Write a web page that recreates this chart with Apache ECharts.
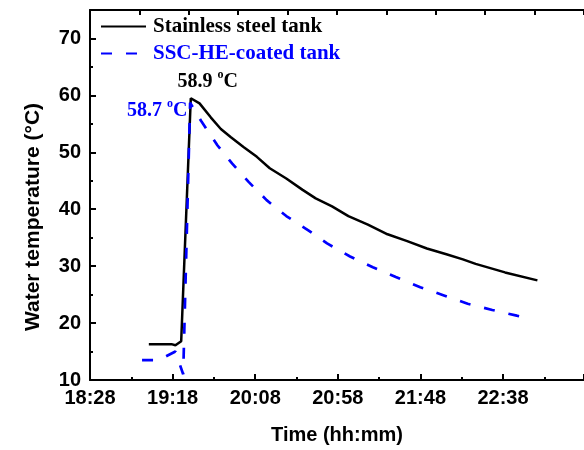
<!DOCTYPE html>
<html>
<head>
<meta charset="utf-8">
<script src="https://cdn.jsdelivr.net/npm/echarts@6/dist/echarts.min.js"></script>
<style>html,body{margin:0;padding:0;background:#fff}#c{width:584px;height:450px}</style>
</head>
<body>
<div id="c"></div>
<script>
// time in minutes after 18:28
var steelTime = [35.6, 49.3, 51.7, 55.2, 61.0, 66.3, 73.2, 79.2, 85.1, 93.1, 101.0, 108.8, 118.8, 128.7, 136.6, 146.5, 156.4, 168.2, 180.1, 192.0, 203.9, 215.7, 225.7, 233.4, 251.2, 270.8];
var steelTemp = [16.3, 16.3, 16.1, 16.8, 59.5, 58.6, 56.1, 54.1, 52.7, 50.9, 49.2, 47.2, 45.4, 43.4, 41.9, 40.5, 38.8, 37.3, 35.6, 34.4, 33.1, 32.1, 31.2, 30.4, 28.9, 27.5];
var coatedTime = [31.5, 41.6, 51.7, 56.4, 60.6, 67.3, 77.2, 86.1, 96.0, 106.9, 118.8, 132.6, 143.5, 157.4, 171.2, 185.1, 199.9, 213.8, 228.6, 243.5, 258.3, 261.3];
var coatedTemp = [13.5, 13.5, 15.0, 11.0, 58.7, 55.5, 51.2, 48.0, 44.8, 41.6, 38.8, 36.2, 34.0, 31.7, 29.8, 28.1, 26.3, 24.9, 23.4, 22.3, 21.3, 21.1];
var seriesNames = ['Stainless steel tank', 'SSC-HE-coated tank'];
var peakLabels = ['58.9', '58.7'];
var startClock = 18 * 60 + 28;

function zip(a, b) { return a.map(function (v, i) { return [v, b[i]]; }); }
function peak(a, b) { var m = 0; for (var i = 1; i < b.length; i++) if (b[i] > b[m]) m = i; return [a[m], b[m]]; }
function fmtTime(v) {
  var t = startClock + v; var h = Math.floor(t / 60) % 24; var m = Math.round(t % 60);
  return h + ':' + (m < 10 ? '0' : '') + m;
}

var chart = echarts.init(document.getElementById('c'), null, { renderer: 'canvas' });
var sans = 'Liberation Sans, Arial, sans-serif';
var serif = 'Liberation Serif, Times New Roman, serif';
var axisFont = { fontFamily: sans, fontWeight: 'bold', fontSize: 20, color: '#000' };

function peakMark(time, temp, text, color, offset) {
  return {
    symbol: 'circle', symbolSize: 0, animation: false,
    data: [{ coord: peak(time, temp) }],
    label: {
      show: true, position: 'inside', offset: offset,
      formatter: '{a|' + text + ' }{s|o}{a|C}',
      rich: {
        a: { fontFamily: serif, fontWeight: 'bold', fontSize: 20, color: color },
        s: { fontFamily: serif, fontWeight: 'bold', fontSize: 12, color: color, verticalAlign: 'top', lineHeight: 26 }
      }
    }
  };
}

chart.setOption({
  animation: false,
  grid: { left: 90, right: -10, top: 10, bottom: 66 },
  legend: {
    left: 95, top: 11, orient: 'vertical', itemWidth: 45, itemHeight: 14, itemGap: 6,
    itemStyle: { opacity: 0 },
    data: seriesNames.map(function (n, i) { return { name: n, textStyle: { color: i === 0 ? '#000' : '#0000ff' } }; }),
    textStyle: { fontFamily: serif, fontWeight: 'bold', fontSize: 21, padding: [0, 0, 0, 2] }
  },
  xAxis: [{
    type: 'value', min: 0, max: 299, interval: 50, position: 'bottom',
    name: 'Time (hh:mm)', nameLocation: 'middle', nameGap: 45,
    nameTextStyle: { fontFamily: sans, fontWeight: 'bold', fontSize: 20, color: '#000' },
    axisLine: { onZero: false, lineStyle: { color: '#000', width: 2 } },
    axisTick: { inside: true, length: 6, lineStyle: { color: '#000', width: 2 } },
    minorTick: { show: true, splitNumber: 2, length: 3, lineStyle: { color: '#000', width: 2 } },
    axisLabel: Object.assign({ margin: 8, showMaxLabel: false, formatter: fmtTime }, axisFont),
    splitLine: { show: false }
  }, {
    type: 'value', min: 0, max: 10, interval: 1, position: 'top',
    axisLine: { onZero: false, lineStyle: { color: '#000', width: 2 } },
    axisTick: { inside: true, length: 5, lineStyle: { color: '#000', width: 2 } },
    axisLabel: { show: false }, splitLine: { show: false }
  }],
  yAxis: {
    type: 'value', min: 10, max: 75, interval: 10,
    name: 'Water temperature (°C)', nameLocation: 'middle', nameGap: 46,
    nameTextStyle: { fontFamily: sans, fontWeight: 'bold', fontSize: 21, color: '#000', padding: [0, 44, 0, 0] },
    axisLine: { show: true, lineStyle: { color: '#000', width: 2 } },
    axisTick: { show: true, inside: true, length: 6, lineStyle: { color: '#000', width: 2 } },
    minorTick: { show: true, splitNumber: 2, length: 3, lineStyle: { color: '#000', width: 2 } },
    axisLabel: Object.assign({ margin: 9, showMaxLabel: false }, axisFont),
    splitLine: { show: false }
  },
  series: [{
    name: seriesNames[0], type: 'line', xAxisIndex: 0, data: zip(steelTime, steelTemp),
    showSymbol: false, symbol: 'none', smooth: false,
    lineStyle: { color: '#000', width: 2.5 }, itemStyle: { color: '#000' },
    markPoint: peakMark(steelTime, steelTemp, peakLabels[0], '#000', [17, -16])
  }, {
    name: seriesNames[1], type: 'line', xAxisIndex: 0, data: zip(coatedTime, coatedTemp),
    showSymbol: false, symbol: 'none', smooth: false,
    lineStyle: { color: '#0000ff', width: 2.7, type: [11, 14] }, itemStyle: { color: '#0000ff' },
    markPoint: peakMark(coatedTime, coatedTemp, peakLabels[1], '#0000ff', [-33, 8])
  }]
});
</script>
</body>
</html>
